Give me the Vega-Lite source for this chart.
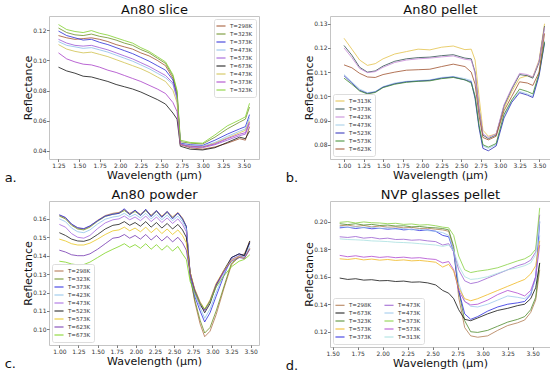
{
"$schema": "https://vega.github.io/schema/vega-lite/v6.json",
"padding": {"left": 4, "top": 2, "right": 2, "bottom": 2},
"spacing": {"row": 2, "column": 25},
"columns": 2,
"align": "each",
"resolve": {"scale": {"color": "independent"}, "legend": {"color": "independent"}},
"datasets": {
"a": [
{"s":"T=298K","x":1.25,"y":0.1165},{"s":"T=298K","x":1.35,"y":0.1150},{"s":"T=298K","x":1.45,"y":0.1140},{"s":"T=298K","x":1.55,"y":0.1145},{"s":"T=298K","x":1.65,"y":0.1150},{"s":"T=298K","x":1.75,"y":0.1140},{"s":"T=298K","x":1.85,"y":0.1125},{"s":"T=298K","x":1.95,"y":0.1105},{"s":"T=298K","x":2.05,"y":0.1090},{"s":"T=298K","x":2.15,"y":0.1075},{"s":"T=298K","x":2.25,"y":0.1050},{"s":"T=298K","x":2.35,"y":0.1030},{"s":"T=298K","x":2.45,"y":0.1000},{"s":"T=298K","x":2.55,"y":0.0965},{"s":"T=298K","x":2.64,"y":0.0880},{"s":"T=298K","x":2.69,"y":0.0770},{"s":"T=298K","x":2.73,"y":0.0440},{"s":"T=298K","x":2.85,"y":0.0420},{"s":"T=298K","x":3.0,"y":0.0410},{"s":"T=298K","x":3.15,"y":0.0425},{"s":"T=298K","x":3.3,"y":0.0450},{"s":"T=298K","x":3.45,"y":0.0480},{"s":"T=298K","x":3.52,"y":0.0470},{"s":"T=298K","x":3.57,"y":0.0560},
{"s":"T=323K","x":1.25,"y":0.1215},{"s":"T=323K","x":1.35,"y":0.1185},{"s":"T=323K","x":1.45,"y":0.1170},{"s":"T=323K","x":1.55,"y":0.1165},{"s":"T=323K","x":1.65,"y":0.1175},{"s":"T=323K","x":1.75,"y":0.1160},{"s":"T=323K","x":1.85,"y":0.1150},{"s":"T=323K","x":1.95,"y":0.1135},{"s":"T=323K","x":2.05,"y":0.1115},{"s":"T=323K","x":2.15,"y":0.1100},{"s":"T=323K","x":2.25,"y":0.1072},{"s":"T=323K","x":2.35,"y":0.1050},{"s":"T=323K","x":2.45,"y":0.1015},{"s":"T=323K","x":2.55,"y":0.0980},{"s":"T=323K","x":2.64,"y":0.0895},{"s":"T=323K","x":2.69,"y":0.0790},{"s":"T=323K","x":2.73,"y":0.0460},{"s":"T=323K","x":2.85,"y":0.0450},{"s":"T=323K","x":3.0,"y":0.0445},{"s":"T=323K","x":3.15,"y":0.0490},{"s":"T=323K","x":3.3,"y":0.0545},{"s":"T=323K","x":3.45,"y":0.0590},{"s":"T=323K","x":3.52,"y":0.0610},{"s":"T=323K","x":3.57,"y":0.0690},
{"s":"T=373K","x":1.25,"y":0.1195},{"s":"T=373K","x":1.35,"y":0.1165},{"s":"T=373K","x":1.45,"y":0.1150},{"s":"T=373K","x":1.55,"y":0.1135},{"s":"T=373K","x":1.65,"y":0.1140},{"s":"T=373K","x":1.75,"y":0.1120},{"s":"T=373K","x":1.85,"y":0.1105},{"s":"T=373K","x":1.95,"y":0.1085},{"s":"T=373K","x":2.05,"y":0.1065},{"s":"T=373K","x":2.15,"y":0.1045},{"s":"T=373K","x":2.25,"y":0.1020},{"s":"T=373K","x":2.35,"y":0.0995},{"s":"T=373K","x":2.45,"y":0.0965},{"s":"T=373K","x":2.55,"y":0.0935},{"s":"T=373K","x":2.64,"y":0.0870},{"s":"T=373K","x":2.69,"y":0.0760},{"s":"T=373K","x":2.73,"y":0.0450},{"s":"T=373K","x":2.85,"y":0.0440},{"s":"T=373K","x":3.0,"y":0.0435},{"s":"T=373K","x":3.15,"y":0.0470},{"s":"T=373K","x":3.3,"y":0.0510},{"s":"T=373K","x":3.45,"y":0.0545},{"s":"T=373K","x":3.52,"y":0.0560},{"s":"T=373K","x":3.57,"y":0.0640},
{"s":"T=473K","x":1.25,"y":0.1125},{"s":"T=473K","x":1.35,"y":0.1100},{"s":"T=473K","x":1.45,"y":0.1090},{"s":"T=473K","x":1.55,"y":0.1080},{"s":"T=473K","x":1.65,"y":0.1085},{"s":"T=473K","x":1.75,"y":0.1070},{"s":"T=473K","x":1.85,"y":0.1055},{"s":"T=473K","x":1.95,"y":0.1035},{"s":"T=473K","x":2.05,"y":0.1015},{"s":"T=473K","x":2.15,"y":0.0995},{"s":"T=473K","x":2.25,"y":0.0970},{"s":"T=473K","x":2.35,"y":0.0945},{"s":"T=473K","x":2.45,"y":0.0915},{"s":"T=473K","x":2.55,"y":0.0885},{"s":"T=473K","x":2.64,"y":0.0840},{"s":"T=473K","x":2.69,"y":0.0740},{"s":"T=473K","x":2.73,"y":0.0445},{"s":"T=473K","x":2.85,"y":0.0435},{"s":"T=473K","x":3.0,"y":0.0430},{"s":"T=473K","x":3.15,"y":0.0455},{"s":"T=473K","x":3.3,"y":0.0495},{"s":"T=473K","x":3.45,"y":0.0530},{"s":"T=473K","x":3.52,"y":0.0545},{"s":"T=473K","x":3.57,"y":0.0620},
{"s":"T=573K","x":1.25,"y":0.1140},{"s":"T=573K","x":1.35,"y":0.1115},{"s":"T=573K","x":1.45,"y":0.1100},{"s":"T=573K","x":1.55,"y":0.1095},{"s":"T=573K","x":1.65,"y":0.1100},{"s":"T=573K","x":1.75,"y":0.1085},{"s":"T=573K","x":1.85,"y":0.1070},{"s":"T=573K","x":1.95,"y":0.1050},{"s":"T=573K","x":2.05,"y":0.1030},{"s":"T=573K","x":2.15,"y":0.1010},{"s":"T=573K","x":2.25,"y":0.0985},{"s":"T=573K","x":2.35,"y":0.0960},{"s":"T=573K","x":2.45,"y":0.0930},{"s":"T=573K","x":2.55,"y":0.0900},{"s":"T=573K","x":2.64,"y":0.0850},{"s":"T=573K","x":2.69,"y":0.0750},{"s":"T=573K","x":2.73,"y":0.0445},{"s":"T=573K","x":2.85,"y":0.0425},{"s":"T=573K","x":3.0,"y":0.0420},{"s":"T=573K","x":3.15,"y":0.0440},{"s":"T=573K","x":3.3,"y":0.0470},{"s":"T=573K","x":3.45,"y":0.0500},{"s":"T=573K","x":3.52,"y":0.0510},{"s":"T=573K","x":3.57,"y":0.0580},
{"s":"T=673K","x":1.25,"y":0.0955},{"s":"T=673K","x":1.35,"y":0.0930},{"s":"T=673K","x":1.45,"y":0.0915},{"s":"T=673K","x":1.55,"y":0.0895},{"s":"T=673K","x":1.65,"y":0.0890},{"s":"T=673K","x":1.75,"y":0.0875},{"s":"T=673K","x":1.85,"y":0.0860},{"s":"T=673K","x":1.95,"y":0.0840},{"s":"T=673K","x":2.05,"y":0.0825},{"s":"T=673K","x":2.15,"y":0.0810},{"s":"T=673K","x":2.25,"y":0.0790},{"s":"T=673K","x":2.35,"y":0.0765},{"s":"T=673K","x":2.45,"y":0.0740},{"s":"T=673K","x":2.55,"y":0.0710},{"s":"T=673K","x":2.64,"y":0.0650},{"s":"T=673K","x":2.69,"y":0.0610},{"s":"T=673K","x":2.73,"y":0.0430},{"s":"T=673K","x":2.85,"y":0.0410},{"s":"T=673K","x":3.0,"y":0.0405},{"s":"T=673K","x":3.15,"y":0.0420},{"s":"T=673K","x":3.3,"y":0.0455},{"s":"T=673K","x":3.45,"y":0.0490},{"s":"T=673K","x":3.52,"y":0.0480},{"s":"T=673K","x":3.57,"y":0.0530},
{"s":"T=473K c","x":1.25,"y":0.1105},{"s":"T=473K c","x":1.35,"y":0.1075},{"s":"T=473K c","x":1.45,"y":0.1060},{"s":"T=473K c","x":1.55,"y":0.1050},{"s":"T=473K c","x":1.65,"y":0.1055},{"s":"T=473K c","x":1.75,"y":0.1040},{"s":"T=473K c","x":1.85,"y":0.1025},{"s":"T=473K c","x":1.95,"y":0.1005},{"s":"T=473K c","x":2.05,"y":0.0985},{"s":"T=473K c","x":2.15,"y":0.0965},{"s":"T=473K c","x":2.25,"y":0.0945},{"s":"T=473K c","x":2.35,"y":0.0920},{"s":"T=473K c","x":2.45,"y":0.0890},{"s":"T=473K c","x":2.55,"y":0.0860},{"s":"T=473K c","x":2.64,"y":0.0800},{"s":"T=473K c","x":2.69,"y":0.0720},{"s":"T=473K c","x":2.73,"y":0.0440},{"s":"T=473K c","x":2.85,"y":0.0430},{"s":"T=473K c","x":3.0,"y":0.0425},{"s":"T=473K c","x":3.15,"y":0.0450},{"s":"T=473K c","x":3.3,"y":0.0485},{"s":"T=473K c","x":3.45,"y":0.0520},{"s":"T=473K c","x":3.52,"y":0.0535},{"s":"T=473K c","x":3.57,"y":0.0600},
{"s":"T=373K c","x":1.25,"y":0.1050},{"s":"T=373K c","x":1.35,"y":0.1010},{"s":"T=373K c","x":1.45,"y":0.0990},{"s":"T=373K c","x":1.55,"y":0.0975},{"s":"T=373K c","x":1.65,"y":0.0970},{"s":"T=373K c","x":1.75,"y":0.0955},{"s":"T=373K c","x":1.85,"y":0.0935},{"s":"T=373K c","x":1.95,"y":0.0920},{"s":"T=373K c","x":2.05,"y":0.0900},{"s":"T=373K c","x":2.15,"y":0.0880},{"s":"T=373K c","x":2.25,"y":0.0860},{"s":"T=373K c","x":2.35,"y":0.0835},{"s":"T=373K c","x":2.45,"y":0.0810},{"s":"T=373K c","x":2.55,"y":0.0780},{"s":"T=373K c","x":2.64,"y":0.0720},{"s":"T=373K c","x":2.69,"y":0.0660},{"s":"T=373K c","x":2.73,"y":0.0440},{"s":"T=373K c","x":2.85,"y":0.0430},{"s":"T=373K c","x":3.0,"y":0.0425},{"s":"T=373K c","x":3.15,"y":0.0445},{"s":"T=373K c","x":3.3,"y":0.0480},{"s":"T=373K c","x":3.45,"y":0.0510},{"s":"T=373K c","x":3.52,"y":0.0520},{"s":"T=373K c","x":3.57,"y":0.0590},
{"s":"T=323K c","x":1.25,"y":0.1238},{"s":"T=323K c","x":1.35,"y":0.1205},{"s":"T=323K c","x":1.45,"y":0.1192},{"s":"T=323K c","x":1.55,"y":0.1185},{"s":"T=323K c","x":1.65,"y":0.1198},{"s":"T=323K c","x":1.75,"y":0.1180},{"s":"T=323K c","x":1.85,"y":0.1168},{"s":"T=323K c","x":1.95,"y":0.1150},{"s":"T=323K c","x":2.05,"y":0.1132},{"s":"T=323K c","x":2.15,"y":0.1115},{"s":"T=323K c","x":2.25,"y":0.1085},{"s":"T=323K c","x":2.35,"y":0.1060},{"s":"T=323K c","x":2.45,"y":0.1025},{"s":"T=323K c","x":2.55,"y":0.0990},{"s":"T=323K c","x":2.64,"y":0.0905},{"s":"T=323K c","x":2.69,"y":0.0800},{"s":"T=323K c","x":2.73,"y":0.0470},{"s":"T=323K c","x":2.85,"y":0.0455},{"s":"T=323K c","x":3.0,"y":0.0450},{"s":"T=323K c","x":3.15,"y":0.0505},{"s":"T=323K c","x":3.3,"y":0.0565},{"s":"T=323K c","x":3.45,"y":0.0605},{"s":"T=323K c","x":3.52,"y":0.0625},{"s":"T=323K c","x":3.57,"y":0.0715}
],
"b": [
{"s":"T=313K","x":1.0,"y":0.1240},{"s":"T=313K","x":1.1,"y":0.1195},{"s":"T=313K","x":1.2,"y":0.1150},{"s":"T=313K","x":1.3,"y":0.1128},{"s":"T=313K","x":1.4,"y":0.1135},{"s":"T=313K","x":1.5,"y":0.1155},{"s":"T=313K","x":1.65,"y":0.1175},{"s":"T=313K","x":1.8,"y":0.1185},{"s":"T=313K","x":1.95,"y":0.1195},{"s":"T=313K","x":2.1,"y":0.1192},{"s":"T=313K","x":2.25,"y":0.1203},{"s":"T=313K","x":2.4,"y":0.1208},{"s":"T=313K","x":2.55,"y":0.1193},{"s":"T=313K","x":2.63,"y":0.1195},{"s":"T=313K","x":2.68,"y":0.1150},{"s":"T=313K","x":2.73,"y":0.1000},{"s":"T=313K","x":2.78,"y":0.0860},{"s":"T=313K","x":2.85,"y":0.0835},{"s":"T=313K","x":2.95,"y":0.0845},{"s":"T=313K","x":3.05,"y":0.0950},{"s":"T=313K","x":3.15,"y":0.1020},{"s":"T=313K","x":3.25,"y":0.1075},{"s":"T=313K","x":3.35,"y":0.1085},{"s":"T=313K","x":3.42,"y":0.1080},{"s":"T=313K","x":3.5,"y":0.1150},{"s":"T=313K","x":3.57,"y":0.1300},
{"s":"T=373K","x":1.0,"y":0.1210},{"s":"T=373K","x":1.1,"y":0.1170},{"s":"T=373K","x":1.2,"y":0.1120},{"s":"T=373K","x":1.3,"y":0.1100},{"s":"T=373K","x":1.4,"y":0.1105},{"s":"T=373K","x":1.5,"y":0.1125},{"s":"T=373K","x":1.65,"y":0.1145},{"s":"T=373K","x":1.8,"y":0.1155},{"s":"T=373K","x":1.95,"y":0.1160},{"s":"T=373K","x":2.1,"y":0.1162},{"s":"T=373K","x":2.25,"y":0.1168},{"s":"T=373K","x":2.4,"y":0.1172},{"s":"T=373K","x":2.55,"y":0.1158},{"s":"T=373K","x":2.63,"y":0.1155},{"s":"T=373K","x":2.68,"y":0.1100},{"s":"T=373K","x":2.73,"y":0.0950},{"s":"T=373K","x":2.78,"y":0.0840},{"s":"T=373K","x":2.85,"y":0.0825},{"s":"T=373K","x":2.95,"y":0.0840},{"s":"T=373K","x":3.05,"y":0.0960},{"s":"T=373K","x":3.15,"y":0.1030},{"s":"T=373K","x":3.25,"y":0.1090},{"s":"T=373K","x":3.35,"y":0.1085},{"s":"T=373K","x":3.42,"y":0.1075},{"s":"T=373K","x":3.5,"y":0.1140},{"s":"T=373K","x":3.57,"y":0.1290},
{"s":"T=423K","x":1.0,"y":0.1200},{"s":"T=423K","x":1.1,"y":0.1160},{"s":"T=423K","x":1.2,"y":0.1115},{"s":"T=423K","x":1.3,"y":0.1098},{"s":"T=423K","x":1.4,"y":0.1102},{"s":"T=423K","x":1.5,"y":0.1120},{"s":"T=423K","x":1.65,"y":0.1140},{"s":"T=423K","x":1.8,"y":0.1150},{"s":"T=423K","x":1.95,"y":0.1155},{"s":"T=423K","x":2.1,"y":0.1158},{"s":"T=423K","x":2.25,"y":0.1163},{"s":"T=423K","x":2.4,"y":0.1167},{"s":"T=423K","x":2.55,"y":0.1153},{"s":"T=423K","x":2.63,"y":0.1150},{"s":"T=423K","x":2.68,"y":0.1095},{"s":"T=423K","x":2.73,"y":0.0945},{"s":"T=423K","x":2.78,"y":0.0845},{"s":"T=423K","x":2.85,"y":0.0830},{"s":"T=423K","x":2.95,"y":0.0845},{"s":"T=423K","x":3.05,"y":0.0965},{"s":"T=423K","x":3.15,"y":0.1035},{"s":"T=423K","x":3.25,"y":0.1095},{"s":"T=423K","x":3.35,"y":0.1090},{"s":"T=423K","x":3.42,"y":0.1080},{"s":"T=423K","x":3.5,"y":0.1145},{"s":"T=423K","x":3.57,"y":0.1285},
{"s":"T=473K","x":1.0,"y":0.1090},{"s":"T=473K","x":1.1,"y":0.1060},{"s":"T=473K","x":1.2,"y":0.1030},{"s":"T=473K","x":1.3,"y":0.1015},{"s":"T=473K","x":1.4,"y":0.1020},{"s":"T=473K","x":1.5,"y":0.1040},{"s":"T=473K","x":1.65,"y":0.1055},{"s":"T=473K","x":1.8,"y":0.1062},{"s":"T=473K","x":1.95,"y":0.1065},{"s":"T=473K","x":2.1,"y":0.1068},{"s":"T=473K","x":2.25,"y":0.1078},{"s":"T=473K","x":2.4,"y":0.1082},{"s":"T=473K","x":2.55,"y":0.1073},{"s":"T=473K","x":2.63,"y":0.1065},{"s":"T=473K","x":2.68,"y":0.1000},{"s":"T=473K","x":2.73,"y":0.0880},{"s":"T=473K","x":2.78,"y":0.0795},{"s":"T=473K","x":2.85,"y":0.0785},{"s":"T=473K","x":2.95,"y":0.0800},{"s":"T=473K","x":3.05,"y":0.0920},{"s":"T=473K","x":3.15,"y":0.0980},{"s":"T=473K","x":3.25,"y":0.1020},{"s":"T=473K","x":3.35,"y":0.1010},{"s":"T=473K","x":3.42,"y":0.1000},{"s":"T=473K","x":3.5,"y":0.1090},{"s":"T=473K","x":3.57,"y":0.1230},
{"s":"T=523K","x":1.0,"y":0.1085},{"s":"T=523K","x":1.1,"y":0.1055},{"s":"T=523K","x":1.2,"y":0.1025},{"s":"T=523K","x":1.3,"y":0.1012},{"s":"T=523K","x":1.4,"y":0.1018},{"s":"T=523K","x":1.5,"y":0.1038},{"s":"T=523K","x":1.65,"y":0.1052},{"s":"T=523K","x":1.8,"y":0.1060},{"s":"T=523K","x":1.95,"y":0.1063},{"s":"T=523K","x":2.1,"y":0.1066},{"s":"T=523K","x":2.25,"y":0.1075},{"s":"T=523K","x":2.4,"y":0.1080},{"s":"T=523K","x":2.55,"y":0.1068},{"s":"T=523K","x":2.63,"y":0.1060},{"s":"T=523K","x":2.68,"y":0.0990},{"s":"T=523K","x":2.73,"y":0.0870},{"s":"T=523K","x":2.78,"y":0.0785},{"s":"T=523K","x":2.85,"y":0.0775},{"s":"T=523K","x":2.95,"y":0.0795},{"s":"T=523K","x":3.05,"y":0.0910},{"s":"T=523K","x":3.15,"y":0.0975},{"s":"T=523K","x":3.25,"y":0.1015},{"s":"T=523K","x":3.35,"y":0.1005},{"s":"T=523K","x":3.42,"y":0.0995},{"s":"T=523K","x":3.5,"y":0.1085},{"s":"T=523K","x":3.57,"y":0.1220},
{"s":"T=573K","x":1.0,"y":0.1075},{"s":"T=573K","x":1.1,"y":0.1050},{"s":"T=573K","x":1.2,"y":0.1022},{"s":"T=573K","x":1.3,"y":0.1010},{"s":"T=573K","x":1.4,"y":0.1016},{"s":"T=573K","x":1.5,"y":0.1036},{"s":"T=573K","x":1.65,"y":0.1050},{"s":"T=573K","x":1.8,"y":0.1058},{"s":"T=573K","x":1.95,"y":0.1062},{"s":"T=573K","x":2.1,"y":0.1064},{"s":"T=573K","x":2.25,"y":0.1073},{"s":"T=573K","x":2.4,"y":0.1078},{"s":"T=573K","x":2.55,"y":0.1068},{"s":"T=573K","x":2.63,"y":0.1055},{"s":"T=573K","x":2.68,"y":0.1000},{"s":"T=573K","x":2.73,"y":0.0880},{"s":"T=573K","x":2.78,"y":0.0800},{"s":"T=573K","x":2.85,"y":0.0790},{"s":"T=573K","x":2.95,"y":0.0805},{"s":"T=573K","x":3.05,"y":0.0925},{"s":"T=573K","x":3.15,"y":0.0985},{"s":"T=573K","x":3.25,"y":0.1030},{"s":"T=573K","x":3.35,"y":0.1020},{"s":"T=573K","x":3.42,"y":0.1010},{"s":"T=573K","x":3.5,"y":0.1095},{"s":"T=573K","x":3.57,"y":0.1225},
{"s":"T=623K","x":1.0,"y":0.1130},{"s":"T=623K","x":1.1,"y":0.1118},{"s":"T=623K","x":1.2,"y":0.1095},{"s":"T=623K","x":1.3,"y":0.1080},{"s":"T=623K","x":1.4,"y":0.1078},{"s":"T=623K","x":1.5,"y":0.1090},{"s":"T=623K","x":1.65,"y":0.1100},{"s":"T=623K","x":1.8,"y":0.1108},{"s":"T=623K","x":1.95,"y":0.1110},{"s":"T=623K","x":2.1,"y":0.1112},{"s":"T=623K","x":2.25,"y":0.1123},{"s":"T=623K","x":2.4,"y":0.1133},{"s":"T=623K","x":2.55,"y":0.1123},{"s":"T=623K","x":2.63,"y":0.1100},{"s":"T=623K","x":2.68,"y":0.1050},{"s":"T=623K","x":2.73,"y":0.0920},{"s":"T=623K","x":2.78,"y":0.0830},{"s":"T=623K","x":2.85,"y":0.0820},{"s":"T=623K","x":2.95,"y":0.0835},{"s":"T=623K","x":3.05,"y":0.0940},{"s":"T=623K","x":3.15,"y":0.1000},{"s":"T=623K","x":3.25,"y":0.1060},{"s":"T=623K","x":3.35,"y":0.1055},{"s":"T=623K","x":3.42,"y":0.1045},{"s":"T=623K","x":3.5,"y":0.1100},{"s":"T=623K","x":3.57,"y":0.1260}
],
"c": [
{"s":"T=298K","x":1.0,"y":0.1620},{"s":"T=298K","x":1.08,"y":0.1605},{"s":"T=298K","x":1.16,"y":0.1570},{"s":"T=298K","x":1.24,"y":0.1550},{"s":"T=298K","x":1.32,"y":0.1545},{"s":"T=298K","x":1.4,"y":0.1560},{"s":"T=298K","x":1.5,"y":0.1592},{"s":"T=298K","x":1.6,"y":0.1618},{"s":"T=298K","x":1.7,"y":0.1630},{"s":"T=298K","x":1.78,"y":0.1635},{"s":"T=298K","x":1.85,"y":0.1650},{"s":"T=298K","x":1.92,"y":0.1630},{"s":"T=298K","x":1.99,"y":0.1645},{"s":"T=298K","x":2.06,"y":0.1625},{"s":"T=298K","x":2.13,"y":0.1650},{"s":"T=298K","x":2.2,"y":0.1620},{"s":"T=298K","x":2.27,"y":0.1645},{"s":"T=298K","x":2.34,"y":0.1615},{"s":"T=298K","x":2.41,"y":0.1640},{"s":"T=298K","x":2.48,"y":0.1610},{"s":"T=298K","x":2.55,"y":0.1635},{"s":"T=298K","x":2.61,"y":0.1605},{"s":"T=298K","x":2.66,"y":0.1560},{"s":"T=298K","x":2.71,"y":0.1290},{"s":"T=298K","x":2.77,"y":0.1150},{"s":"T=298K","x":2.84,"y":0.1030},{"s":"T=298K","x":2.9,"y":0.0960},{"s":"T=298K","x":2.97,"y":0.0990},{"s":"T=298K","x":3.05,"y":0.1080},{"s":"T=298K","x":3.15,"y":0.1220},{"s":"T=298K","x":3.25,"y":0.1350},{"s":"T=298K","x":3.35,"y":0.1400},{"s":"T=298K","x":3.42,"y":0.1410},{"s":"T=298K","x":3.49,"y":0.1480},
{"s":"T=323K","x":1.0,"y":0.1615},{"s":"T=323K","x":1.08,"y":0.1600},{"s":"T=323K","x":1.16,"y":0.1565},{"s":"T=323K","x":1.24,"y":0.1545},{"s":"T=323K","x":1.32,"y":0.1540},{"s":"T=323K","x":1.4,"y":0.1555},{"s":"T=323K","x":1.5,"y":0.1587},{"s":"T=323K","x":1.6,"y":0.1613},{"s":"T=323K","x":1.7,"y":0.1625},{"s":"T=323K","x":1.78,"y":0.1630},{"s":"T=323K","x":1.85,"y":0.1645},{"s":"T=323K","x":1.92,"y":0.1625},{"s":"T=323K","x":1.99,"y":0.1640},{"s":"T=323K","x":2.06,"y":0.1620},{"s":"T=323K","x":2.13,"y":0.1645},{"s":"T=323K","x":2.2,"y":0.1615},{"s":"T=323K","x":2.27,"y":0.1640},{"s":"T=323K","x":2.34,"y":0.1610},{"s":"T=323K","x":2.41,"y":0.1635},{"s":"T=323K","x":2.48,"y":0.1605},{"s":"T=323K","x":2.55,"y":0.1630},{"s":"T=323K","x":2.61,"y":0.1600},{"s":"T=323K","x":2.66,"y":0.1555},{"s":"T=323K","x":2.71,"y":0.1285},{"s":"T=323K","x":2.77,"y":0.1160},{"s":"T=323K","x":2.84,"y":0.1050},{"s":"T=323K","x":2.9,"y":0.0980},{"s":"T=323K","x":2.97,"y":0.1010},{"s":"T=323K","x":3.05,"y":0.1100},{"s":"T=323K","x":3.15,"y":0.1230},{"s":"T=323K","x":3.25,"y":0.1360},{"s":"T=323K","x":3.35,"y":0.1390},{"s":"T=323K","x":3.42,"y":0.1405},{"s":"T=323K","x":3.49,"y":0.1470},
{"s":"T=373K","x":1.0,"y":0.1622},{"s":"T=373K","x":1.08,"y":0.1608},{"s":"T=373K","x":1.16,"y":0.1572},{"s":"T=373K","x":1.24,"y":0.1552},{"s":"T=373K","x":1.32,"y":0.1547},{"s":"T=373K","x":1.4,"y":0.1562},{"s":"T=373K","x":1.5,"y":0.1590},{"s":"T=373K","x":1.6,"y":0.1615},{"s":"T=373K","x":1.7,"y":0.1625},{"s":"T=373K","x":1.78,"y":0.1630},{"s":"T=373K","x":1.85,"y":0.1655},{"s":"T=373K","x":1.92,"y":0.1622},{"s":"T=373K","x":1.99,"y":0.1648},{"s":"T=373K","x":2.06,"y":0.1618},{"s":"T=373K","x":2.13,"y":0.1652},{"s":"T=373K","x":2.2,"y":0.1612},{"s":"T=373K","x":2.27,"y":0.1645},{"s":"T=373K","x":2.34,"y":0.1608},{"s":"T=373K","x":2.41,"y":0.1640},{"s":"T=373K","x":2.48,"y":0.1600},{"s":"T=373K","x":2.55,"y":0.1632},{"s":"T=373K","x":2.61,"y":0.1598},{"s":"T=373K","x":2.66,"y":0.1560},{"s":"T=373K","x":2.71,"y":0.1300},{"s":"T=373K","x":2.77,"y":0.1180},{"s":"T=373K","x":2.84,"y":0.1100},{"s":"T=373K","x":2.9,"y":0.1040},{"s":"T=373K","x":2.97,"y":0.1090},{"s":"T=373K","x":3.05,"y":0.1180},{"s":"T=373K","x":3.15,"y":0.1290},{"s":"T=373K","x":3.25,"y":0.1390},{"s":"T=373K","x":3.35,"y":0.1410},{"s":"T=373K","x":3.42,"y":0.1400},{"s":"T=373K","x":3.49,"y":0.1470},
{"s":"T=423K","x":1.0,"y":0.1600},{"s":"T=423K","x":1.08,"y":0.1585},{"s":"T=423K","x":1.16,"y":0.1550},{"s":"T=423K","x":1.24,"y":0.1530},{"s":"T=423K","x":1.32,"y":0.1525},{"s":"T=423K","x":1.4,"y":0.1540},{"s":"T=423K","x":1.5,"y":0.1572},{"s":"T=423K","x":1.6,"y":0.1598},{"s":"T=423K","x":1.7,"y":0.1610},{"s":"T=423K","x":1.78,"y":0.1615},{"s":"T=423K","x":1.85,"y":0.1630},{"s":"T=423K","x":1.92,"y":0.1610},{"s":"T=423K","x":1.99,"y":0.1625},{"s":"T=423K","x":2.06,"y":0.1605},{"s":"T=423K","x":2.13,"y":0.1630},{"s":"T=423K","x":2.2,"y":0.1600},{"s":"T=423K","x":2.27,"y":0.1625},{"s":"T=423K","x":2.34,"y":0.1595},{"s":"T=423K","x":2.41,"y":0.1620},{"s":"T=423K","x":2.48,"y":0.1590},{"s":"T=423K","x":2.55,"y":0.1615},{"s":"T=423K","x":2.61,"y":0.1585},{"s":"T=423K","x":2.66,"y":0.1545},{"s":"T=423K","x":2.71,"y":0.1300},{"s":"T=423K","x":2.77,"y":0.1190},{"s":"T=423K","x":2.84,"y":0.1120},{"s":"T=423K","x":2.9,"y":0.1060},{"s":"T=423K","x":2.97,"y":0.1110},{"s":"T=423K","x":3.05,"y":0.1200},{"s":"T=423K","x":3.15,"y":0.1300},{"s":"T=423K","x":3.25,"y":0.1380},{"s":"T=423K","x":3.35,"y":0.1400},{"s":"T=423K","x":3.42,"y":0.1395},{"s":"T=423K","x":3.49,"y":0.1450},
{"s":"T=473K","x":1.0,"y":0.1570},{"s":"T=473K","x":1.08,"y":0.1555},{"s":"T=473K","x":1.16,"y":0.1520},{"s":"T=473K","x":1.24,"y":0.1500},{"s":"T=473K","x":1.32,"y":0.1495},{"s":"T=473K","x":1.4,"y":0.1510},{"s":"T=473K","x":1.5,"y":0.1547},{"s":"T=473K","x":1.6,"y":0.1578},{"s":"T=473K","x":1.7,"y":0.1595},{"s":"T=473K","x":1.78,"y":0.1600},{"s":"T=473K","x":1.85,"y":0.1615},{"s":"T=473K","x":1.92,"y":0.1595},{"s":"T=473K","x":1.99,"y":0.1610},{"s":"T=473K","x":2.06,"y":0.1590},{"s":"T=473K","x":2.13,"y":0.1615},{"s":"T=473K","x":2.2,"y":0.1585},{"s":"T=473K","x":2.27,"y":0.1610},{"s":"T=473K","x":2.34,"y":0.1580},{"s":"T=473K","x":2.41,"y":0.1605},{"s":"T=473K","x":2.48,"y":0.1575},{"s":"T=473K","x":2.55,"y":0.1600},{"s":"T=473K","x":2.61,"y":0.1570},{"s":"T=473K","x":2.66,"y":0.1530},{"s":"T=473K","x":2.71,"y":0.1310},{"s":"T=473K","x":2.77,"y":0.1200},{"s":"T=473K","x":2.84,"y":0.1130},{"s":"T=473K","x":2.9,"y":0.1100},{"s":"T=473K","x":2.97,"y":0.1150},{"s":"T=473K","x":3.05,"y":0.1230},{"s":"T=473K","x":3.15,"y":0.1310},{"s":"T=473K","x":3.25,"y":0.1380},{"s":"T=473K","x":3.35,"y":0.1400},{"s":"T=473K","x":3.42,"y":0.1390},{"s":"T=473K","x":3.49,"y":0.1440},
{"s":"T=523K","x":1.0,"y":0.1525},{"s":"T=523K","x":1.08,"y":0.1510},{"s":"T=523K","x":1.16,"y":0.1490},{"s":"T=523K","x":1.24,"y":0.1480},{"s":"T=523K","x":1.32,"y":0.1478},{"s":"T=523K","x":1.4,"y":0.1488},{"s":"T=523K","x":1.5,"y":0.1515},{"s":"T=523K","x":1.6,"y":0.1545},{"s":"T=523K","x":1.7,"y":0.1565},{"s":"T=523K","x":1.78,"y":0.1570},{"s":"T=523K","x":1.85,"y":0.1585},{"s":"T=523K","x":1.92,"y":0.1565},{"s":"T=523K","x":1.99,"y":0.1580},{"s":"T=523K","x":2.06,"y":0.1560},{"s":"T=523K","x":2.13,"y":0.1585},{"s":"T=523K","x":2.2,"y":0.1555},{"s":"T=523K","x":2.27,"y":0.1580},{"s":"T=523K","x":2.34,"y":0.1550},{"s":"T=523K","x":2.41,"y":0.1575},{"s":"T=523K","x":2.48,"y":0.1545},{"s":"T=523K","x":2.55,"y":0.1570},{"s":"T=523K","x":2.61,"y":0.1540},{"s":"T=523K","x":2.66,"y":0.1500},{"s":"T=523K","x":2.71,"y":0.1310},{"s":"T=523K","x":2.77,"y":0.1210},{"s":"T=523K","x":2.84,"y":0.1140},{"s":"T=523K","x":2.9,"y":0.1090},{"s":"T=523K","x":2.97,"y":0.1140},{"s":"T=523K","x":3.05,"y":0.1240},{"s":"T=523K","x":3.15,"y":0.1320},{"s":"T=523K","x":3.25,"y":0.1390},{"s":"T=523K","x":3.35,"y":0.1410},{"s":"T=523K","x":3.42,"y":0.1400},{"s":"T=523K","x":3.49,"y":0.1480},
{"s":"T=573K","x":1.0,"y":0.1490},{"s":"T=573K","x":1.08,"y":0.1480},{"s":"T=573K","x":1.16,"y":0.1465},{"s":"T=573K","x":1.24,"y":0.1458},{"s":"T=573K","x":1.32,"y":0.1458},{"s":"T=573K","x":1.4,"y":0.1468},{"s":"T=573K","x":1.5,"y":0.1490},{"s":"T=573K","x":1.6,"y":0.1515},{"s":"T=573K","x":1.7,"y":0.1535},{"s":"T=573K","x":1.78,"y":0.1540},{"s":"T=573K","x":1.85,"y":0.1555},{"s":"T=573K","x":1.92,"y":0.1535},{"s":"T=573K","x":1.99,"y":0.1550},{"s":"T=573K","x":2.06,"y":0.1530},{"s":"T=573K","x":2.13,"y":0.1555},{"s":"T=573K","x":2.2,"y":0.1525},{"s":"T=573K","x":2.27,"y":0.1550},{"s":"T=573K","x":2.34,"y":0.1520},{"s":"T=573K","x":2.41,"y":0.1545},{"s":"T=573K","x":2.48,"y":0.1515},{"s":"T=573K","x":2.55,"y":0.1540},{"s":"T=573K","x":2.61,"y":0.1510},{"s":"T=573K","x":2.66,"y":0.1470},{"s":"T=573K","x":2.71,"y":0.1310},{"s":"T=573K","x":2.77,"y":0.1220},{"s":"T=573K","x":2.84,"y":0.1150},{"s":"T=573K","x":2.9,"y":0.1110},{"s":"T=573K","x":2.97,"y":0.1160},{"s":"T=573K","x":3.05,"y":0.1250},{"s":"T=573K","x":3.15,"y":0.1320},{"s":"T=573K","x":3.25,"y":0.1375},{"s":"T=573K","x":3.35,"y":0.1395},{"s":"T=573K","x":3.42,"y":0.1385},{"s":"T=573K","x":3.49,"y":0.1440},
{"s":"T=623K","x":1.0,"y":0.1430},{"s":"T=623K","x":1.08,"y":0.1420},{"s":"T=623K","x":1.16,"y":0.1405},{"s":"T=623K","x":1.24,"y":0.1400},{"s":"T=623K","x":1.32,"y":0.1400},{"s":"T=623K","x":1.4,"y":0.1410},{"s":"T=623K","x":1.5,"y":0.1435},{"s":"T=623K","x":1.6,"y":0.1465},{"s":"T=623K","x":1.7,"y":0.1495},{"s":"T=623K","x":1.78,"y":0.1500},{"s":"T=623K","x":1.85,"y":0.1515},{"s":"T=623K","x":1.92,"y":0.1495},{"s":"T=623K","x":1.99,"y":0.1510},{"s":"T=623K","x":2.06,"y":0.1490},{"s":"T=623K","x":2.13,"y":0.1515},{"s":"T=623K","x":2.2,"y":0.1485},{"s":"T=623K","x":2.27,"y":0.1510},{"s":"T=623K","x":2.34,"y":0.1480},{"s":"T=623K","x":2.41,"y":0.1505},{"s":"T=623K","x":2.48,"y":0.1475},{"s":"T=623K","x":2.55,"y":0.1500},{"s":"T=623K","x":2.61,"y":0.1470},{"s":"T=623K","x":2.66,"y":0.1430},{"s":"T=623K","x":2.71,"y":0.1300},{"s":"T=623K","x":2.77,"y":0.1215},{"s":"T=623K","x":2.84,"y":0.1145},{"s":"T=623K","x":2.9,"y":0.1105},{"s":"T=623K","x":2.97,"y":0.1155},{"s":"T=623K","x":3.05,"y":0.1245},{"s":"T=623K","x":3.15,"y":0.1315},{"s":"T=623K","x":3.25,"y":0.1370},{"s":"T=623K","x":3.35,"y":0.1390},{"s":"T=623K","x":3.42,"y":0.1385},{"s":"T=623K","x":3.49,"y":0.1435},
{"s":"T=673K","x":1.0,"y":0.1370},{"s":"T=673K","x":1.08,"y":0.1365},{"s":"T=673K","x":1.16,"y":0.1355},{"s":"T=673K","x":1.24,"y":0.1350},{"s":"T=673K","x":1.32,"y":0.1352},{"s":"T=673K","x":1.4,"y":0.1365},{"s":"T=673K","x":1.5,"y":0.1390},{"s":"T=673K","x":1.6,"y":0.1415},{"s":"T=673K","x":1.7,"y":0.1435},{"s":"T=673K","x":1.78,"y":0.1450},{"s":"T=673K","x":1.85,"y":0.1465},{"s":"T=673K","x":1.92,"y":0.1445},{"s":"T=673K","x":1.99,"y":0.1460},{"s":"T=673K","x":2.06,"y":0.1440},{"s":"T=673K","x":2.13,"y":0.1465},{"s":"T=673K","x":2.2,"y":0.1435},{"s":"T=673K","x":2.27,"y":0.1460},{"s":"T=673K","x":2.34,"y":0.1430},{"s":"T=673K","x":2.41,"y":0.1455},{"s":"T=673K","x":2.48,"y":0.1425},{"s":"T=673K","x":2.55,"y":0.1450},{"s":"T=673K","x":2.61,"y":0.1410},{"s":"T=673K","x":2.66,"y":0.1380},{"s":"T=673K","x":2.71,"y":0.1260},{"s":"T=673K","x":2.77,"y":0.1200},{"s":"T=673K","x":2.84,"y":0.1140},{"s":"T=673K","x":2.9,"y":0.1110},{"s":"T=673K","x":2.97,"y":0.1150},{"s":"T=673K","x":3.05,"y":0.1230},{"s":"T=673K","x":3.15,"y":0.1290},{"s":"T=673K","x":3.25,"y":0.1340},{"s":"T=673K","x":3.35,"y":0.1370},{"s":"T=673K","x":3.42,"y":0.1380},{"s":"T=673K","x":3.49,"y":0.1405}
],
"d": [
{"s":"T=298K","x":1.57,"y":0.1970},{"s":"T=298K","x":1.65,"y":0.1975},{"s":"T=298K","x":1.73,"y":0.1965},{"s":"T=298K","x":1.81,"y":0.1972},{"s":"T=298K","x":1.89,"y":0.1962},{"s":"T=298K","x":1.97,"y":0.1968},{"s":"T=298K","x":2.05,"y":0.1960},{"s":"T=298K","x":2.13,"y":0.1962},{"s":"T=298K","x":2.21,"y":0.1955},{"s":"T=298K","x":2.29,"y":0.1958},{"s":"T=298K","x":2.37,"y":0.1950},{"s":"T=298K","x":2.45,"y":0.1952},{"s":"T=298K","x":2.53,"y":0.1945},{"s":"T=298K","x":2.6,"y":0.1940},{"s":"T=298K","x":2.66,"y":0.1930},{"s":"T=298K","x":2.71,"y":0.1800},{"s":"T=298K","x":2.76,"y":0.1450},{"s":"T=298K","x":2.82,"y":0.1230},{"s":"T=298K","x":2.88,"y":0.1170},{"s":"T=298K","x":2.95,"y":0.1160},{"s":"T=298K","x":3.05,"y":0.1170},{"s":"T=298K","x":3.15,"y":0.1210},{"s":"T=298K","x":3.25,"y":0.1245},{"s":"T=298K","x":3.35,"y":0.1265},{"s":"T=298K","x":3.42,"y":0.1285},{"s":"T=298K","x":3.48,"y":0.1340},{"s":"T=298K","x":3.53,"y":0.1430},{"s":"T=298K","x":3.57,"y":0.1650},
{"s":"T=323K","x":1.57,"y":0.1985},{"s":"T=323K","x":1.65,"y":0.1978},{"s":"T=323K","x":1.73,"y":0.1985},{"s":"T=323K","x":1.81,"y":0.1975},{"s":"T=323K","x":1.89,"y":0.1980},{"s":"T=323K","x":1.97,"y":0.1972},{"s":"T=323K","x":2.05,"y":0.1975},{"s":"T=323K","x":2.13,"y":0.1968},{"s":"T=323K","x":2.21,"y":0.1970},{"s":"T=323K","x":2.29,"y":0.1962},{"s":"T=323K","x":2.37,"y":0.1965},{"s":"T=323K","x":2.45,"y":0.1958},{"s":"T=323K","x":2.53,"y":0.1955},{"s":"T=323K","x":2.6,"y":0.1950},{"s":"T=323K","x":2.66,"y":0.1940},{"s":"T=323K","x":2.71,"y":0.1820},{"s":"T=323K","x":2.76,"y":0.1500},{"s":"T=323K","x":2.82,"y":0.1280},{"s":"T=323K","x":2.88,"y":0.1200},{"s":"T=323K","x":2.95,"y":0.1195},{"s":"T=323K","x":3.05,"y":0.1210},{"s":"T=323K","x":3.15,"y":0.1240},{"s":"T=323K","x":3.25,"y":0.1270},{"s":"T=323K","x":3.35,"y":0.1290},{"s":"T=323K","x":3.42,"y":0.1310},{"s":"T=323K","x":3.48,"y":0.1360},{"s":"T=323K","x":3.53,"y":0.1450},{"s":"T=323K","x":3.57,"y":0.1700},
{"s":"T=373K","x":1.57,"y":0.1955},{"s":"T=373K","x":1.65,"y":0.1960},{"s":"T=373K","x":1.73,"y":0.1950},{"s":"T=373K","x":1.81,"y":0.1958},{"s":"T=373K","x":1.89,"y":0.1948},{"s":"T=373K","x":1.97,"y":0.1952},{"s":"T=373K","x":2.05,"y":0.1945},{"s":"T=373K","x":2.13,"y":0.1950},{"s":"T=373K","x":2.21,"y":0.1940},{"s":"T=373K","x":2.29,"y":0.1945},{"s":"T=373K","x":2.37,"y":0.1935},{"s":"T=373K","x":2.45,"y":0.1940},{"s":"T=373K","x":2.53,"y":0.1930},{"s":"T=373K","x":2.6,"y":0.1900},{"s":"T=373K","x":2.66,"y":0.1890},{"s":"T=373K","x":2.71,"y":0.1780},{"s":"T=373K","x":2.76,"y":0.1500},{"s":"T=373K","x":2.82,"y":0.1330},{"s":"T=373K","x":2.88,"y":0.1290},{"s":"T=373K","x":2.95,"y":0.1310},{"s":"T=373K","x":3.05,"y":0.1350},{"s":"T=373K","x":3.15,"y":0.1380},{"s":"T=373K","x":3.25,"y":0.1400},{"s":"T=373K","x":3.35,"y":0.1410},{"s":"T=373K","x":3.42,"y":0.1420},{"s":"T=373K","x":3.48,"y":0.1470},{"s":"T=373K","x":3.53,"y":0.1600},{"s":"T=373K","x":3.57,"y":0.2000},
{"s":"T=473K","x":1.57,"y":0.1965},{"s":"T=473K","x":1.65,"y":0.1958},{"s":"T=473K","x":1.73,"y":0.1962},{"s":"T=473K","x":1.81,"y":0.1955},{"s":"T=473K","x":1.89,"y":0.1960},{"s":"T=473K","x":1.97,"y":0.1950},{"s":"T=473K","x":2.05,"y":0.1955},{"s":"T=473K","x":2.13,"y":0.1945},{"s":"T=473K","x":2.21,"y":0.1950},{"s":"T=473K","x":2.29,"y":0.1940},{"s":"T=473K","x":2.37,"y":0.1945},{"s":"T=473K","x":2.45,"y":0.1935},{"s":"T=473K","x":2.53,"y":0.1930},{"s":"T=473K","x":2.6,"y":0.1920},{"s":"T=473K","x":2.66,"y":0.1900},{"s":"T=473K","x":2.71,"y":0.1790},{"s":"T=473K","x":2.76,"y":0.1550},{"s":"T=473K","x":2.82,"y":0.1420},{"s":"T=473K","x":2.88,"y":0.1385},{"s":"T=473K","x":2.95,"y":0.1380},{"s":"T=473K","x":3.05,"y":0.1400},{"s":"T=473K","x":3.15,"y":0.1430},{"s":"T=473K","x":3.25,"y":0.1460},{"s":"T=473K","x":3.35,"y":0.1450},{"s":"T=473K","x":3.42,"y":0.1440},{"s":"T=473K","x":3.48,"y":0.1480},{"s":"T=473K","x":3.53,"y":0.1580},{"s":"T=473K","x":3.57,"y":0.1900},
{"s":"T=573K","x":1.57,"y":0.1755},{"s":"T=573K","x":1.65,"y":0.1745},{"s":"T=573K","x":1.73,"y":0.1752},{"s":"T=573K","x":1.81,"y":0.1742},{"s":"T=573K","x":1.89,"y":0.1748},{"s":"T=573K","x":1.97,"y":0.1740},{"s":"T=573K","x":2.05,"y":0.1745},{"s":"T=573K","x":2.13,"y":0.1738},{"s":"T=573K","x":2.21,"y":0.1742},{"s":"T=573K","x":2.29,"y":0.1735},{"s":"T=573K","x":2.37,"y":0.1738},{"s":"T=573K","x":2.45,"y":0.1730},{"s":"T=573K","x":2.53,"y":0.1725},{"s":"T=573K","x":2.6,"y":0.1700},{"s":"T=573K","x":2.66,"y":0.1710},{"s":"T=573K","x":2.71,"y":0.1650},{"s":"T=573K","x":2.76,"y":0.1500},{"s":"T=573K","x":2.82,"y":0.1420},{"s":"T=573K","x":2.88,"y":0.1395},{"s":"T=573K","x":2.95,"y":0.1400},{"s":"T=573K","x":3.05,"y":0.1430},{"s":"T=573K","x":3.15,"y":0.1470},{"s":"T=573K","x":3.25,"y":0.1500},{"s":"T=573K","x":3.35,"y":0.1480},{"s":"T=573K","x":3.42,"y":0.1460},{"s":"T=573K","x":3.48,"y":0.1500},{"s":"T=573K","x":3.53,"y":0.1600},{"s":"T=573K","x":3.57,"y":0.1830},
{"s":"T=673K","x":1.57,"y":0.1590},{"s":"T=673K","x":1.65,"y":0.1580},{"s":"T=673K","x":1.73,"y":0.1585},{"s":"T=673K","x":1.81,"y":0.1575},{"s":"T=673K","x":1.89,"y":0.1578},{"s":"T=673K","x":1.97,"y":0.1570},{"s":"T=673K","x":2.05,"y":0.1572},{"s":"T=673K","x":2.13,"y":0.1565},{"s":"T=673K","x":2.21,"y":0.1568},{"s":"T=673K","x":2.29,"y":0.1560},{"s":"T=673K","x":2.37,"y":0.1562},{"s":"T=673K","x":2.45,"y":0.1555},{"s":"T=673K","x":2.53,"y":0.1540},{"s":"T=673K","x":2.6,"y":0.1500},{"s":"T=673K","x":2.66,"y":0.1480},{"s":"T=673K","x":2.71,"y":0.1440},{"s":"T=673K","x":2.76,"y":0.1360},{"s":"T=673K","x":2.82,"y":0.1290},{"s":"T=673K","x":2.88,"y":0.1280},{"s":"T=673K","x":2.95,"y":0.1300},{"s":"T=673K","x":3.05,"y":0.1330},{"s":"T=673K","x":3.15,"y":0.1355},{"s":"T=673K","x":3.25,"y":0.1370},{"s":"T=673K","x":3.35,"y":0.1390},{"s":"T=673K","x":3.42,"y":0.1400},{"s":"T=673K","x":3.48,"y":0.1440},{"s":"T=673K","x":3.53,"y":0.1520},{"s":"T=673K","x":3.57,"y":0.1700},
{"s":"T=573K c","x":1.57,"y":0.1730},{"s":"T=573K c","x":1.65,"y":0.1725},{"s":"T=573K c","x":1.73,"y":0.1732},{"s":"T=573K c","x":1.81,"y":0.1722},{"s":"T=573K c","x":1.89,"y":0.1728},{"s":"T=573K c","x":1.97,"y":0.1720},{"s":"T=573K c","x":2.05,"y":0.1725},{"s":"T=573K c","x":2.13,"y":0.1718},{"s":"T=573K c","x":2.21,"y":0.1722},{"s":"T=573K c","x":2.29,"y":0.1715},{"s":"T=573K c","x":2.37,"y":0.1718},{"s":"T=573K c","x":2.45,"y":0.1712},{"s":"T=573K c","x":2.53,"y":0.1705},{"s":"T=573K c","x":2.6,"y":0.1670},{"s":"T=573K c","x":2.66,"y":0.1690},{"s":"T=573K c","x":2.71,"y":0.1640},{"s":"T=573K c","x":2.76,"y":0.1520},{"s":"T=573K c","x":2.82,"y":0.1440},{"s":"T=573K c","x":2.88,"y":0.1425},{"s":"T=573K c","x":2.95,"y":0.1440},{"s":"T=573K c","x":3.05,"y":0.1470},{"s":"T=573K c","x":3.15,"y":0.1500},{"s":"T=573K c","x":3.25,"y":0.1530},{"s":"T=573K c","x":3.35,"y":0.1560},{"s":"T=573K c","x":3.42,"y":0.1580},{"s":"T=573K c","x":3.48,"y":0.1620},{"s":"T=573K c","x":3.53,"y":0.1680},{"s":"T=573K c","x":3.57,"y":0.1860},
{"s":"T=473K c","x":1.57,"y":0.1890},{"s":"T=473K c","x":1.65,"y":0.1885},{"s":"T=473K c","x":1.73,"y":0.1892},{"s":"T=473K c","x":1.81,"y":0.1880},{"s":"T=473K c","x":1.89,"y":0.1885},{"s":"T=473K c","x":1.97,"y":0.1875},{"s":"T=473K c","x":2.05,"y":0.1880},{"s":"T=473K c","x":2.13,"y":0.1870},{"s":"T=473K c","x":2.21,"y":0.1872},{"s":"T=473K c","x":2.29,"y":0.1865},{"s":"T=473K c","x":2.37,"y":0.1868},{"s":"T=473K c","x":2.45,"y":0.1860},{"s":"T=473K c","x":2.53,"y":0.1855},{"s":"T=473K c","x":2.6,"y":0.1830},{"s":"T=473K c","x":2.66,"y":0.1840},{"s":"T=473K c","x":2.71,"y":0.1780},{"s":"T=473K c","x":2.76,"y":0.1650},{"s":"T=473K c","x":2.82,"y":0.1570},{"s":"T=473K c","x":2.88,"y":0.1550},{"s":"T=473K c","x":2.95,"y":0.1560},{"s":"T=473K c","x":3.05,"y":0.1590},{"s":"T=473K c","x":3.15,"y":0.1620},{"s":"T=473K c","x":3.25,"y":0.1650},{"s":"T=473K c","x":3.35,"y":0.1680},{"s":"T=473K c","x":3.42,"y":0.1695},{"s":"T=473K c","x":3.48,"y":0.1720},{"s":"T=473K c","x":3.53,"y":0.1780},{"s":"T=473K c","x":3.57,"y":0.2050},
{"s":"T=373K c","x":1.57,"y":0.1995},{"s":"T=373K c","x":1.65,"y":0.2000},{"s":"T=373K c","x":1.73,"y":0.1990},{"s":"T=373K c","x":1.81,"y":0.1998},{"s":"T=373K c","x":1.89,"y":0.1992},{"s":"T=373K c","x":1.97,"y":0.1990},{"s":"T=373K c","x":2.05,"y":0.1985},{"s":"T=373K c","x":2.13,"y":0.1988},{"s":"T=373K c","x":2.21,"y":0.1980},{"s":"T=373K c","x":2.29,"y":0.1983},{"s":"T=373K c","x":2.37,"y":0.1975},{"s":"T=373K c","x":2.45,"y":0.1978},{"s":"T=373K c","x":2.53,"y":0.1970},{"s":"T=373K c","x":2.6,"y":0.1960},{"s":"T=373K c","x":2.66,"y":0.1955},{"s":"T=373K c","x":2.71,"y":0.1900},{"s":"T=373K c","x":2.76,"y":0.1750},{"s":"T=373K c","x":2.82,"y":0.1650},{"s":"T=373K c","x":2.88,"y":0.1630},{"s":"T=373K c","x":2.95,"y":0.1640},{"s":"T=373K c","x":3.05,"y":0.1650},{"s":"T=373K c","x":3.15,"y":0.1665},{"s":"T=373K c","x":3.25,"y":0.1690},{"s":"T=373K c","x":3.35,"y":0.1715},{"s":"T=373K c","x":3.42,"y":0.1730},{"s":"T=373K c","x":3.48,"y":0.1755},{"s":"T=373K c","x":3.53,"y":0.1800},{"s":"T=373K c","x":3.57,"y":0.2100},
{"s":"T=313K","x":1.57,"y":0.1875},{"s":"T=313K","x":1.65,"y":0.1870},{"s":"T=313K","x":1.73,"y":0.1868},{"s":"T=313K","x":1.81,"y":0.1865},{"s":"T=313K","x":1.89,"y":0.1860},{"s":"T=313K","x":1.97,"y":0.1858},{"s":"T=313K","x":2.05,"y":0.1855},{"s":"T=313K","x":2.13,"y":0.1850},{"s":"T=313K","x":2.21,"y":0.1848},{"s":"T=313K","x":2.29,"y":0.1845},{"s":"T=313K","x":2.37,"y":0.1840},{"s":"T=313K","x":2.45,"y":0.1835},{"s":"T=313K","x":2.53,"y":0.1830},{"s":"T=313K","x":2.6,"y":0.1820},{"s":"T=313K","x":2.66,"y":0.1830},{"s":"T=313K","x":2.71,"y":0.1790},{"s":"T=313K","x":2.76,"y":0.1680},{"s":"T=313K","x":2.82,"y":0.1600},{"s":"T=313K","x":2.88,"y":0.1580},{"s":"T=313K","x":2.95,"y":0.1585},{"s":"T=313K","x":3.05,"y":0.1600},{"s":"T=313K","x":3.15,"y":0.1625},{"s":"T=313K","x":3.25,"y":0.1650},{"s":"T=313K","x":3.35,"y":0.1665},{"s":"T=313K","x":3.42,"y":0.1680},{"s":"T=313K","x":3.48,"y":0.1700},{"s":"T=313K","x":3.53,"y":0.1760},{"s":"T=313K","x":3.57,"y":0.2000}
]
},
"concat": [
{
"width": 210, "height": 143,
"data": {"name": "a"},
"title": {"text": "a.", "orient": "bottom", "anchor": "start", "frame": "bounds", "offset": -9, "dx": -18, "fontSize": 13},
"layer": [
{"mark": {"type": "line", "strokeWidth": 0.8, "clip": true},
"encoding": {
"x": {"field": "x", "type": "quantitative", "scale": {"domain": [1.135, 3.685], "nice": false, "zero": false}, "axis": {"values": [1.25,1.5,1.75,2.0,2.25,2.5,2.75,3.0,3.25,3.5], "format": ".2f", "title": "Wavelength (μm)"}},
"y": {"field": "y", "type": "quantitative", "scale": {"domain": [0.0345, 0.1295], "nice": false, "zero": false}, "axis": {"values": [0.04,0.06,0.08,0.10,0.12], "format": ".2f", "title": "Reflectance"}},
"color": {"field": "s", "type": "nominal", "sort": null,
"scale": {"domain": ["T=298K","T=323K","T=373K","T=473K","T=573K","T=673K","T=473K c","T=373K c","T=323K c"], "range": ["#a0522d","#6b8e23","#2b2bd6","#8cbde8","#9a55d6","#111111","#cfc04c","#a83fc8","#80d02c"]},
"legend": {"title": null, "orient": "top-right", "offset": 3, "labelExpr": "split(datum.label, ' ')[0]"}}
}},
{"mark": {"type": "rule", "opacity": 0},
"encoding": {"x": {"datum": 2, "type": "quantitative", "axis": {"orient": "top", "title": "An80 slice", "labels": false, "ticks": false, "domain": false, "titleFontSize": 13, "titlePadding": 0}}}}
],
"resolve": {"axis": {"x": "independent"}}
},
{
"width": 220, "height": 143,
"data": {"name": "b"},
"title": {"text": "b.", "orient": "bottom", "anchor": "start", "frame": "bounds", "offset": -9, "dx": -18, "fontSize": 13},
"layer": [
{"mark": {"type": "line", "strokeWidth": 0.8, "clip": true},
"encoding": {
"x": {"field": "x", "type": "quantitative", "scale": {"domain": [0.82, 3.64], "nice": false, "zero": false}, "axis": {"values": [1.0,1.25,1.5,1.75,2.0,2.25,2.5,2.75,3.0,3.25,3.5], "format": ".2f", "title": "Wavelength (μm)"}},
"y": {"field": "y", "type": "quantitative", "scale": {"domain": [0.0741, 0.1332], "nice": false, "zero": false}, "axis": {"values": [0.08,0.09,0.10,0.11,0.12,0.13], "format": ".2f", "title": "Reflectance"}},
"color": {"field": "s", "type": "nominal", "sort": null,
"scale": {"domain": ["T=313K","T=373K","T=423K","T=473K","T=523K","T=573K","T=623K"], "range": ["#e3c14a","#2f4f4f","#c486d6","#9fcbe6","#2a2ab8","#3d8b2e","#a0522d"]},
"legend": {"title": null, "orient": "bottom-left", "offset": 3}}
}},
{"mark": {"type": "rule", "opacity": 0},
"encoding": {"x": {"datum": 2, "type": "quantitative", "axis": {"orient": "top", "title": "An80 pellet", "labels": false, "ticks": false, "domain": false, "titleFontSize": 13, "titlePadding": 0}}}}
],
"resolve": {"axis": {"x": "independent"}}
},
{
"width": 210, "height": 144,
"data": {"name": "c"},
"title": {"text": "c.", "orient": "bottom", "anchor": "start", "frame": "bounds", "offset": -9, "dx": -18, "fontSize": 13},
"layer": [
{"mark": {"type": "line", "strokeWidth": 0.8, "clip": true},
"encoding": {
"x": {"field": "x", "type": "quantitative", "scale": {"domain": [0.865, 3.61], "nice": false, "zero": false}, "axis": {"values": [1.0,1.25,1.5,1.75,2.0,2.25,2.5,2.75,3.0,3.25,3.5], "format": ".2f", "title": "Wavelength (μm)"}},
"y": {"field": "y", "type": "quantitative", "scale": {"domain": [0.0915, 0.1697], "nice": false, "zero": false}, "axis": {"values": [0.10,0.11,0.12,0.13,0.14,0.15,0.16], "format": ".2f", "title": "Reflectance"}},
"color": {"field": "s", "type": "nominal", "sort": null,
"scale": {"domain": ["T=298K","T=323K","T=373K","T=423K","T=473K","T=523K","T=573K","T=623K","T=673K"], "range": ["#b0704a","#6b8e23","#2b2be0","#8fc3ea","#a566e0","#1a1a1a","#e8c620","#7436b0","#7ed321"]},
"legend": {"title": null, "orient": "bottom-left", "offset": 3}}
}},
{"mark": {"type": "rule", "opacity": 0},
"encoding": {"x": {"datum": 2, "type": "quantitative", "axis": {"orient": "top", "title": "An80 powder", "labels": false, "ticks": false, "domain": false, "titleFontSize": 13, "titlePadding": 0}}}}
],
"resolve": {"axis": {"x": "independent"}}
},
{
"width": 220, "height": 146,
"data": {"name": "d"},
"title": {"text": "d.", "orient": "bottom", "anchor": "start", "frame": "bounds", "offset": -9, "dx": -18, "fontSize": 13},
"layer": [
{"mark": {"type": "line", "strokeWidth": 0.8, "clip": true},
"encoding": {
"x": {"field": "x", "type": "quantitative", "scale": {"domain": [1.473, 3.673], "nice": false, "zero": false}, "axis": {"values": [1.5,1.75,2.0,2.25,2.5,2.75,3.0,3.25,3.5], "format": ".2f", "title": "Wavelength (μm)"}},
"y": {"field": "y", "type": "quantitative", "scale": {"domain": [0.1089, 0.215], "nice": false, "zero": false}, "axis": {"values": [0.12,0.14,0.16,0.18,0.20], "format": ".2f", "title": "Reflectance"}},
"color": {"field": "s", "type": "nominal", "sort": null,
"scale": {"domain": ["T=298K","T=673K","T=323K","T=573K c","T=373K","T=473K c","T=473K","T=373K c","T=573K","T=313K"], "range": ["#b07a50","#111111","#4e8a2b","#f0b820","#2a2ae0","#9a5fd0","#9cc8ec","#86d040","#b04ad0","#a8e0e0"]},
"legend": {"title": null, "orient": "bottom-left", "offset": 3, "columns": 2, "columnPadding": 10, "labelExpr": "split(datum.label, ' ')[0]"}}
}},
{"mark": {"type": "rule", "opacity": 0},
"encoding": {"x": {"datum": 2, "type": "quantitative", "axis": {"orient": "top", "title": "NVP glasses pellet", "labels": false, "ticks": false, "domain": false, "titleFontSize": 13, "titlePadding": 0}}}}
],
"resolve": {"axis": {"x": "independent"}}
}
],
"config": {
"font": "DejaVu Sans",
"view": {"stroke": "#c4c4c4", "strokeWidth": 1},
"axis": {"domain": false, "grid": false, "tickColor": "#444444", "tickSize": 2.5, "tickWidth": 0.7, "labelFontSize": 6, "labelColor": "#333333", "labelPadding": 1, "titleFontSize": 11, "titleFontWeight": "normal", "titleColor": "#111111", "titlePadding": 1, "labelFont": "DejaVu Sans", "titleFont": "DejaVu Sans"},
"axisY": {"labelPadding": 0.5, "titlePadding": -1},
"title": {"font": "DejaVu Sans", "fontWeight": "normal", "fontSize": 13, "color": "#111111"},
"legend": {"labelFont": "DejaVu Sans", "labelFontSize": 5.5, "labelColor": "#333333", "symbolType": "M-1.4,0H1.4", "symbolSize": 42, "symbolStrokeWidth": 1, "rowPadding": 0, "labelOffset": 5, "padding": 3, "fillColor": "rgba(255,255,255,0.85)", "strokeColor": "#dddddd", "cornerRadius": 2}
}
}
